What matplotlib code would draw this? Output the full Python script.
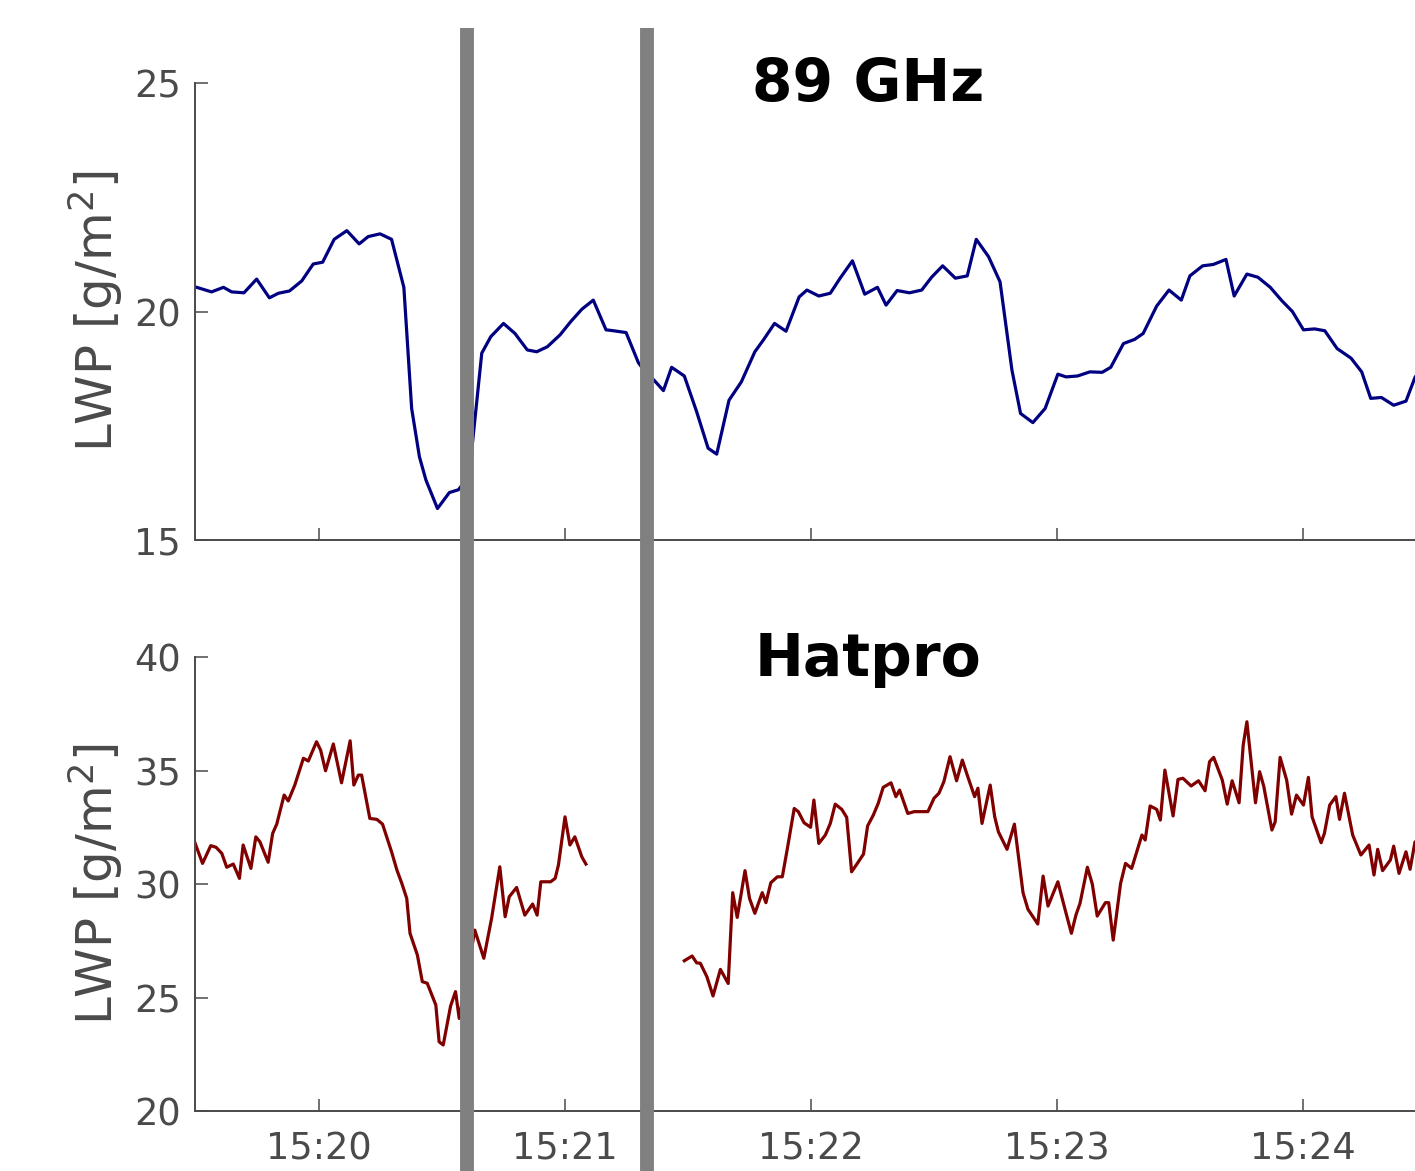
import matplotlib
matplotlib.use("Agg")
import matplotlib.pyplot as plt
import matplotlib.transforms as mtransforms
from matplotlib.lines import Line2D
import numpy as np

# seconds after 15:20:00
t_89 = [-30.2, -26.2, -23.3, -21.3, -18.3, -15.2, -12.1, -9.9, -7.2, -4.2, -1.4, 0.9, 3.7, 6.8,
        9.8, 12.0, 14.9, 17.7, 20.7, 22.6, 24.5, 26.1, 28.9, 31.8, 34.0, 36.6, 39.7, 41.9, 45.0,
        47.8, 50.8, 53.1, 55.7, 58.8, 61.4, 64.1, 66.9, 70.0, 71.8, 74.9, 77.9, 79.8, 81.7, 84.0,
        86.0, 89.1, 92.1, 94.9, 97.0, 100.0, 103.0, 106.3, 108.4, 111.1, 113.9, 117.1, 119.0,
        121.9, 124.7, 127.1, 130.1, 133.1, 136.2, 138.3, 141.0, 144.0, 147.0, 149.4, 152.1,
        155.2, 158.1, 160.3, 163.3, 166.1, 169.0, 171.1, 174.1, 177.1, 180.2, 182.2, 185.0,
        188.0, 191.0, 193.1, 196.2, 198.9, 201.0, 204.3, 207.3, 210.3, 212.4, 215.5, 218.1,
        221.2, 223.2, 226.3, 229.0, 232.0, 234.8, 237.4, 240.1, 242.8, 245.3, 248.3, 251.7,
        254.3, 256.5, 259.1, 262.1, 265.1, 267.3, 269.8]
lwp_89 = [20.54, 20.43, 20.53, 20.43, 20.41, 20.71, 20.30, 20.40, 20.45, 20.67, 21.04, 21.08,
          21.58, 21.77, 21.48, 21.64, 21.70, 21.58, 20.53, 17.88, 16.82, 16.31, 15.69, 16.04,
          16.10, 16.40, 19.09, 19.45, 19.74, 19.52, 19.16, 19.12, 19.23, 19.49, 19.78, 20.05,
          20.25, 19.60, 19.58, 19.54, 18.88, 18.65, 18.50, 18.27, 18.78, 18.59, 17.81, 17.01,
          16.88, 18.06, 18.46, 19.12, 19.38, 19.74, 19.57, 20.32, 20.47, 20.34, 20.40, 20.73,
          21.11, 20.38, 20.53, 20.14, 20.46, 20.41, 20.47, 20.75, 21.00, 20.73, 20.78, 21.58,
          21.20, 20.65, 18.72, 17.77, 17.57, 17.88, 18.63, 18.57, 18.59, 18.68, 18.67, 18.78,
          19.30, 19.39, 19.52, 20.12, 20.47, 20.25, 20.78, 21.00, 21.03, 21.14, 20.34, 20.82,
          20.75, 20.53, 20.24, 20.00, 19.60, 19.62, 19.58, 19.19, 18.98, 18.68, 18.10, 18.12,
          17.95, 18.04, 18.56, 18.90]

t_hat = [-30.5, -28.4, -26.4, -25.1, -23.7, -22.5, -20.9, -19.4, -18.5, -16.6, -15.4, -14.4,
         -12.4, -11.3, -10.3, -8.5, -7.5, -5.9, -3.8, -2.6, -0.6, 0.4, 1.6, 3.5, 5.5, 7.6, 8.5,
         9.6, 10.4, 12.4, 14.1, 15.5, 16.9, 17.7, 19.0, 20.2, 21.4, 22.2, 24.0, 25.2, 26.4, 28.5,
         29.3, 30.3, 32.1, 33.3, 34.2, 36.1, 38.0, 40.2, 42.1, 44.1, 45.4, 46.4, 48.2, 50.2,
         52.1, 53.2, 54.1, 56.5, 57.6, 58.4, 60.0, 61.2, 62.4, 64.1, 65.1, 77.0,
         89.1, 91.0, 92.1, 93.0, 94.6, 96.1, 97.9, 99.8, 100.9, 102.0, 103.9, 105.0, 106.3,
         108.1, 109.0, 110.2, 111.8, 113.0, 114.2, 115.9, 116.9, 118.3, 119.9, 120.7, 121.9,
         123.5, 124.7, 125.9, 127.5, 128.7, 129.9, 131.3, 132.8, 133.8, 135.2, 136.4, 137.6,
         139.5, 140.7, 141.6, 143.6, 145.2, 146.0, 148.5, 150.0, 151.2, 152.4, 153.9, 155.5,
         156.9, 158.1, 159.9, 160.7, 161.7, 163.7, 164.8, 165.7, 167.8, 169.6, 171.7, 172.9,
         175.3, 176.6, 177.8, 180.2, 182.0, 183.5, 184.6, 185.6, 187.4, 188.6, 189.8, 191.8,
         192.6, 193.7, 195.5, 196.7, 198.2, 200.7, 201.5, 202.7, 204.3, 205.2, 206.3, 208.3,
         209.5, 210.7, 212.7, 214.5, 216.1, 217.2, 218.2, 220.3, 221.5, 222.7, 224.4, 225.4,
         226.3, 228.4, 229.4, 230.4, 232.4, 233.2, 234.4, 236.0, 237.2, 238.4, 240.1, 241.3,
         242.2, 244.4, 245.2, 246.5, 248.0, 248.9, 250.1, 252.1, 254.1, 256.1, 257.3, 258.2,
         259.4, 261.3, 262.1, 263.4, 265.1, 266.1, 267.3, 269.0]
lwp_hat = [31.94, 30.91, 31.69, 31.62, 31.35, 30.74, 30.88, 30.25, 31.72, 30.69, 32.08, 31.86,
           30.96, 32.23, 32.64, 33.92, 33.66, 34.36, 35.54, 35.42, 36.27, 35.90, 34.99, 36.17,
           34.46, 36.31, 34.36, 34.80, 34.80, 32.89, 32.85, 32.64, 31.86, 31.42, 30.62, 30.03,
           29.37, 27.83, 26.87, 25.70, 25.63, 24.67, 23.05, 22.91, 24.63, 25.26, 24.08, 26.00,
           27.97, 26.73, 28.49, 30.76, 28.56, 29.44, 29.85, 28.63, 29.12, 28.63, 30.10, 30.10,
           30.25, 30.84, 32.96, 31.72, 32.08, 31.20, 30.88, np.nan,
           26.62, 26.83, 26.53, 26.51, 25.92, 25.07, 26.24, 25.62, 29.62, 28.53, 30.59, 29.37,
           28.71, 29.62, 29.18, 30.06, 30.32, 30.32, 31.53, 33.33, 33.19, 32.70, 32.50, 33.70,
           31.79, 32.16, 32.67, 33.52, 33.29, 32.94, 30.54, 30.91, 31.32, 32.56, 33.04, 33.56,
           34.26, 34.46, 33.85, 34.14, 33.11, 33.19, 33.19, 33.19, 33.78, 34.00, 34.51, 35.61,
           34.55, 35.46, 34.80, 33.85, 34.22, 32.67, 34.36, 32.96, 32.30, 31.53, 32.64, 29.62,
           28.89, 28.24, 30.35, 29.03, 30.10, 28.85, 27.83, 28.63, 29.15, 30.74, 30.00, 28.59,
           29.18, 29.18, 27.53, 30.03, 30.91, 30.69, 32.16, 31.94, 33.44, 33.29, 32.82, 35.02,
           33.00, 34.61, 34.66, 34.32, 34.55, 34.11, 35.39, 35.58, 34.58, 33.52, 34.55, 33.58,
           36.12, 37.15, 33.58, 34.95, 34.32, 32.38, 32.74, 35.58, 34.58, 33.08, 33.92, 33.48,
           34.70, 32.96, 31.82, 32.23, 33.48, 33.85, 32.85, 34.00, 32.16, 31.28, 31.72, 30.40,
           31.53, 30.59, 31.06, 31.67, 30.47, 31.42, 30.65, 31.86, 31.50]

tick_pos = [0, 60, 120, 180, 240]
tick_lab = ["15:20", "15:21", "15:22", "15:23", "15:24"]
marks = [36.1, 80.0]

gray = "#4a4a4a"

fig = plt.figure(figsize=(14.15, 11.71), dpi=100)
ax1 = fig.add_axes([0.1378, 0.5388, 0.8622, 0.3903])
ax2 = fig.add_axes([0.1378, 0.0512, 0.8622, 0.3877])

ax1.plot(t_89, lwp_89, color="#000080", linewidth=2.3)
ax2.plot(t_hat, lwp_hat, color="#800000", linewidth=2.3)

ax1.set_ylim(15, 25)
ax1.set_yticks([15, 20, 25])
ax2.set_ylim(20, 40)
ax2.set_yticks([20, 25, 30, 35, 40])

for ax in (ax1, ax2):
    ax.set_xlim(-30.24, 267.3)
    ax.set_xticks(tick_pos)
    ax.set_xticklabels(tick_lab)
    for s in ("top", "right"):
        ax.spines[s].set_visible(False)
    for s in ("left", "bottom"):
        ax.spines[s].set_color(gray)
        ax.spines[s].set_linewidth(1.4)
    ax.tick_params(direction="in", length=9, width=1.1, color=gray,
                   labelsize=26.5, labelcolor=gray)
    ax.tick_params(axis="y", pad=10)
    ax.tick_params(axis="x", pad=14)
    ax.set_ylabel("LWP [g/m$^2$]", fontsize=36, color=gray)
    ax.yaxis.set_label_coords(-0.057, 0.5)

ax1.tick_params(axis="x", labelbottom=False)

fig.text(0.6135, 0.9137, "89 GHz", fontsize=42, fontweight="bold", ha="center", va="baseline")
fig.text(0.6135, 0.4227, "Hatpro", fontsize=42, fontweight="bold", ha="center", va="baseline")

# gray markers running through both panels
trans = mtransforms.blended_transform_factory(ax1.transData, fig.transFigure)
for m in marks:
    fig.add_artist(Line2D([m, m], [0, 0.976], transform=trans, color="#808080",
                          linewidth=10, solid_capstyle="butt", zorder=5))

fig.savefig("out.png", dpi=100)
